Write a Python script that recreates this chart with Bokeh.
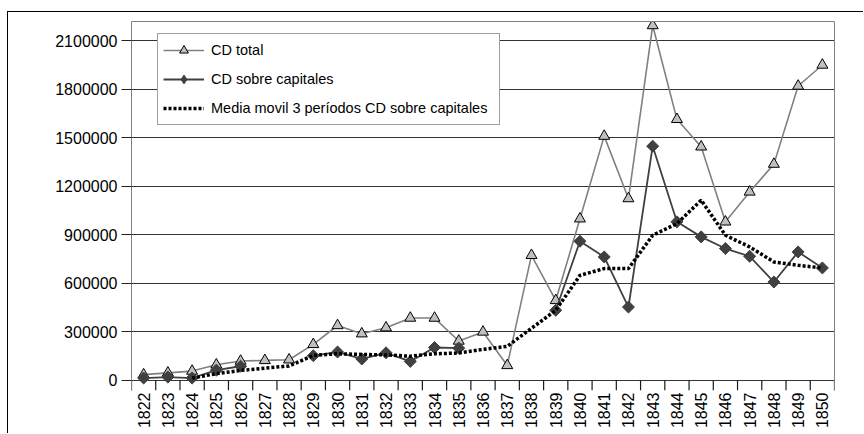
import numpy as np
from bokeh.plotting import figure
from bokeh.models import (Range1d, FixedTicker, NumeralTickFormatter, Legend,
                          LegendItem, LinearAxis)
from bokeh.embed import file_html
from bokeh.resources import INLINE

nan = float("nan")

# Annual series, 1822-1850
years = list(range(1822, 1851))
cd_total = [36000, 47000, 58000, 97000, 120000, 124000, 128000, 223000, 340000,
            289000, 326000, 386000, 386000, 244000, 300000, 93000, 774000, 495000,
            1000000, 1511000, 1125000, 2195000, 1615000, 1445000, 981000, 1166000,
            1338000, 1821000, 1951000]
cd_capitales = [15000, 21000, 15000, 64000, 88000, nan, nan, 153000, 176000,
                133000, 171000, 118000, 204000, 200000, nan, nan, nan, 434000,
                861000, 764000, 454000, 1449000, 981000, 888000, 816000, 768000,
                609000, 795000, 696000]

# 3-period moving average of "CD sobre capitales" (no value for 1838)
ma_years = list(range(1824, 1838)) + list(range(1839, 1851))
ma_values = [15000, 42000, 62000, 76000, 90000, 155000, 165000, 161000, 158000,
             150000, 165000, 170000, 192000, 211000,
             434000, 650000, 692000, 692000, 898000, 970000, 1115000, 898000,
             826000, 733000, 712000, 696000]

y_ticks = [0, 300000, 600000, 900000, 1200000, 1500000, 1800000, 2100000]
y_max = 2220000
y_min = -62000          # room under the zero line for the category tick marks

FONT = "Liberation Sans"
FRAME = "#808080"

# Category slots: slot i spans [i, i+1], the year sits in its middle
n = len(years)
xc = [i + 0.5 for i in range(n)]
ma_x = [years.index(y) + 0.5 for y in ma_years]
bounds = list(range(n + 1))

p = figure(width=856, height=422,
           x_range=Range1d(0, n), y_range=Range1d(y_min, y_max),
           output_backend="svg", toolbar_location=None,
           min_border_left=123, min_border_right=30,
           min_border_top=9, min_border_bottom=44)
p.margin = (11, 0, 0, 7)
p.styles = {"border-top": "1px solid #000", "border-left": "1px solid #000"}
p.background_fill_color = "white"
p.border_fill_color = "white"
p.outline_line_color = None

# Year labels on the slot centres
xa = p.xaxis[0]
xa.ticker = FixedTicker(ticks=xc)
xa.major_label_overrides = {c: str(y) for c, y in zip(xc, years)}
xa.axis_line_color = None
xa.major_tick_line_color = None
xa.minor_tick_line_color = None
xa.major_tick_out = 0
xa.major_tick_in = 0
xa.major_label_orientation = np.pi / 2
xa.major_label_standoff = 2
xa.major_label_text_font = FONT
xa.major_label_text_font_size = "16px"
xa.major_label_text_color = "black"

ya = p.yaxis[0]
ya.ticker = FixedTicker(ticks=y_ticks)
ya.formatter = NumeralTickFormatter(format="0")
ya.major_tick_out = 10
ya.major_tick_in = 0
ya.minor_tick_line_color = None
ya.major_tick_line_color = "#222222"
ya.axis_line_color = FRAME
ya.major_label_standoff = 4
ya.major_label_text_font = FONT
ya.major_label_text_font_size = "16px"
ya.major_label_text_color = "black"

# Plain rules closing the plot area on the top and right
for side in ("above", "right"):
    ax = LinearAxis(ticker=FixedTicker(ticks=[]))
    ax.axis_line_color = FRAME
    ax.major_tick_line_color = None
    ax.minor_tick_line_color = None
    ax.major_tick_out = 0
    ax.major_label_standoff = 0
    p.add_layout(ax, side)

p.xgrid.grid_line_color = None
p.ygrid.ticker = FixedTicker(ticks=y_ticks)
p.ygrid.grid_line_color = "#333333"
p.ygrid.grid_line_width = 1

# Tick marks on the slot boundaries, hanging below the zero line
p.segment(x0=bounds, y0=[0] * len(bounds), x1=bounds, y1=[y_min] * len(bounds),
          line_color="#1a1a1a", line_width=1.2)

# CD total
l1 = p.line(xc, cd_total, line_color="#808080", line_width=1.6)
m1 = p.scatter(xc, cd_total, marker="triangle", size=11,
               fill_color="#c0c0c0", line_color="black", line_width=1)

# CD sobre capitales
l2 = p.line(xc, cd_capitales, line_color="#404040", line_width=1.8)
m2 = p.scatter(xc, cd_capitales, marker="square", angle=np.pi / 4, size=8.5,
               fill_color="#404040", line_color="#404040", line_width=1)
# diamond swatch used by the legend entry
k2 = p.scatter([nan], [nan], marker="diamond", fill_color="#404040",
               line_color="#404040", line_width=1)

# Moving average
l3 = p.line(ma_x, ma_values, line_color="black", line_width=3.5,
            line_dash="3 2", line_cap="butt")

legend = Legend(items=[
    LegendItem(label="CD total", renderers=[l1, m1]),
    LegendItem(label="CD sobre capitales", renderers=[l2, k2]),
    LegendItem(label="Media movil 3 períodos CD sobre capitales", renderers=[l3]),
], location=(26, 265))
legend.margin = 0
legend.padding = 5
legend.spacing = 7
legend.glyph_width = 41
legend.glyph_height = 22
legend.label_height = 22
legend.label_width = 283
legend.label_standoff = 7
legend.label_text_font = FONT
legend.label_text_font_size = "14.5px"
legend.label_text_color = "black"
legend.border_line_color = "#404040"
legend.border_line_width = 1
legend.background_fill_color = "white"
legend.background_fill_alpha = 1
p.add_layout(legend)

open("out.html", "w").write(file_html(p, INLINE))
